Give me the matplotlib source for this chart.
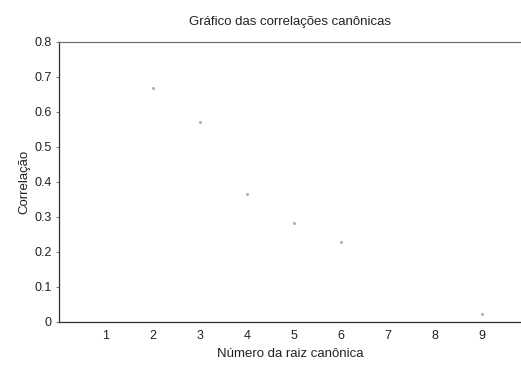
import numpy as np
import matplotlib
matplotlib.use('Agg')
import matplotlib.pyplot as plt

plt.rcParams['font.family'] = ['Liberation Sans', 'DejaVu Sans']

# Dados
raiz = [2, 3, 4, 5, 6, 9]
correlacao = [0.669, 0.571, 0.366, 0.283, 0.229, 0.023]
xticks = [1, 2, 3, 4, 5, 6, 7, 8, 9]
yticks = [0, 0.1, 0.2, 0.3, 0.4, 0.5, 0.6, 0.7, 0.8]

fig = plt.figure(figsize=(5.21, 3.65), dpi=100)
ax = fig.add_axes([0.113, 0.118, 0.887, 0.767])

ax.plot(raiz, correlacao, 'o', color='#b0b0b0', markersize=2.2, markeredgewidth=0)

ax.set_xlim(0, 9.83)
ax.set_ylim(0, 0.8)
ax.set_xticks(xticks)
ax.set_yticks(yticks)
ax.set_yticklabels(['0', '0.1', '0.2', '0.3', '0.4', '0.5', '0.6', '0.7', '0.8'])

ax.spines['right'].set_visible(False)
ax.spines['top'].set_color('#707070')
ax.spines['top'].set_linewidth(0.9)
for s in ['left', 'bottom']:
    ax.spines[s].set_color('#303030')
    ax.spines[s].set_linewidth(0.9)

ax.tick_params(axis='y', length=2, width=0.6, color='#606060', labelsize=9, pad=3, labelcolor='#222222')
ax.tick_params(axis='x', length=0, labelsize=9, pad=6, labelcolor='#222222')

ax.set_title('Gráfico das correlações canônicas', fontsize=9.5, pad=12, color='#222222')
ax.set_xlabel('Número da raiz canônica', fontsize=9.5, labelpad=4, color='#222222')
ax.set_ylabel('Correlação', fontsize=9.5, labelpad=3, color='#222222')

fig.savefig('out.png', dpi=100)
